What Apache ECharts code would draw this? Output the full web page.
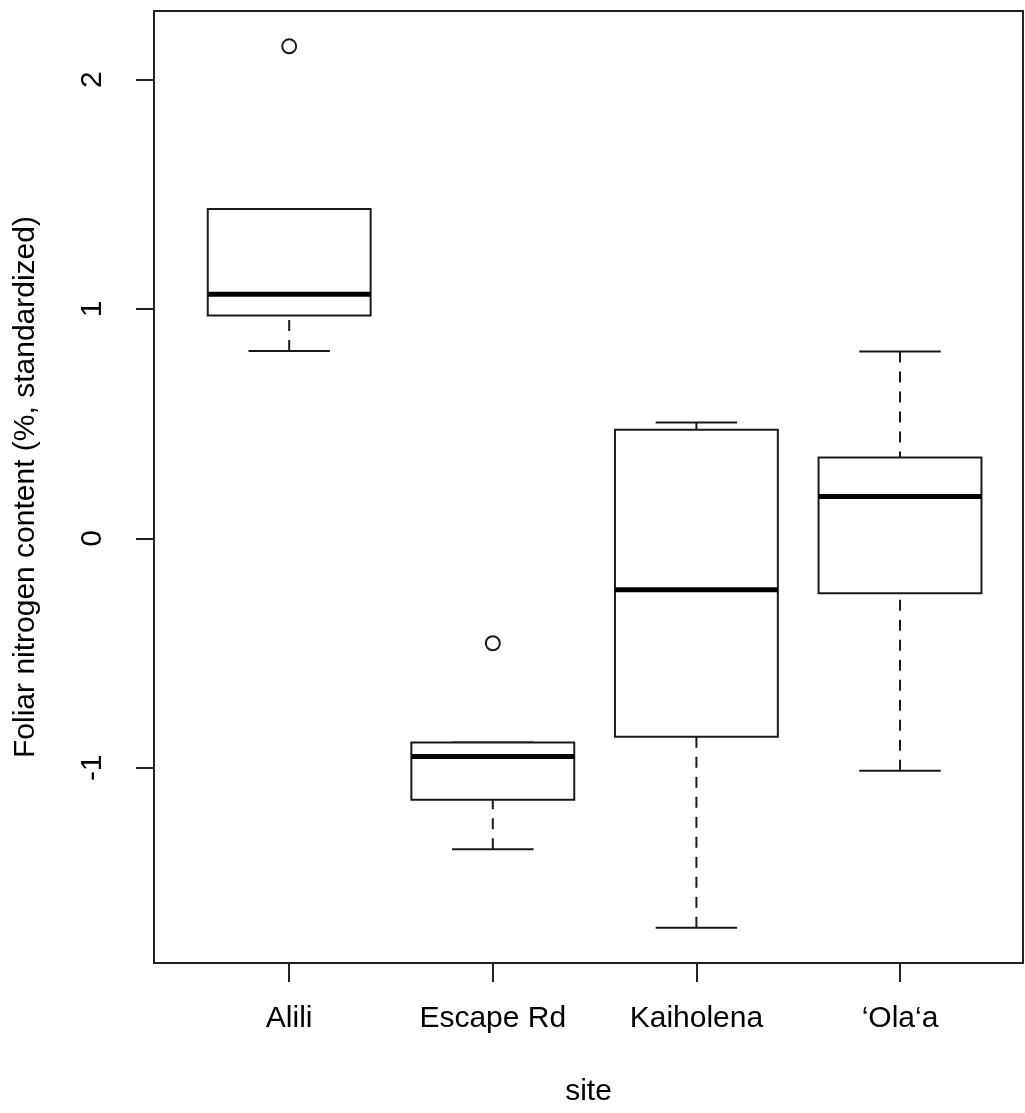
<!DOCTYPE html>
<html>
<head>
<meta charset="utf-8">
<script src="https://cdn.jsdelivr.net/npm/echarts@6/dist/echarts.min.js"></script>
<style>
  html, body { margin: 0; padding: 0; background: #ffffff; }
  #chart { width: 1025px; height: 1113px; }
</style>
</head>
<body>
<div id="chart"></div>
<script>
// Sites sampled (x categories)
const sites = ['Alili', 'Escape Rd', 'Kaiholena', '\u2018Ola\u2018a'];

// Five-number summaries per site (standardized foliar N)
const lowerWhisker = [0.817, -1.355, -1.697, -1.013];
const lowerQuartile = [0.972, -1.139, -0.865, -0.239];
const medians = [1.064, -0.951, -0.224, 0.183];
const upperQuartile = [1.436, -0.890, 0.474, 0.353];
const upperWhisker = [1.436, -0.890, 0.505, 0.815];

// Points beyond the whiskers: [site position, value]
const outlierSite = [1, 2];
const outlierValue = [2.145, -0.457];

// Axis ticks
const yTicks = [-1, 0, 1, 2];
const xTicks = [1, 2, 3, 4];

const FONT = '"Liberation Sans", Arial, Helvetica, sans-serif';
const INK = '#1a1a1a';
const FS = 30;

const boxData = sites.map((s, i) => [
  i + 1, lowerWhisker[i], lowerQuartile[i], medians[i], upperQuartile[i], upperWhisker[i]
]);
const outlierData = outlierSite.map((x, i) => [x, outlierValue[i]]);

const BOX_HALF = 0.4;   // half box width in axis units
const CAP_HALF = 0.2;   // half staple width in axis units
const OUTLIER_R = 7;    // outlier circle radius, px

function renderBox(params, api) {
  const x = api.value(0);
  const lo = api.value(1), b1 = api.value(2), md = api.value(3), b3 = api.value(4), hi = api.value(5);
  const cx = api.coord([x, md])[0];
  const left = api.coord([x - BOX_HALF, b3])[0];
  const right = api.coord([x + BOX_HALF, b3])[0];
  const capL = api.coord([x - CAP_HALF, b3])[0];
  const capR = api.coord([x + CAP_HALF, b3])[0];
  const yLo = api.coord([x, lo])[1];
  const yB1 = api.coord([x, b1])[1];
  const yMd = api.coord([x, md])[1];
  const yB3 = api.coord([x, b3])[1];
  const yHi = api.coord([x, hi])[1];
  const thin = { stroke: INK, lineWidth: 2, fill: null };
  const dashed = { stroke: INK, lineWidth: 2, lineDash: [11, 9], fill: null };
  const children = [];
  // whiskers, drawn from their ends toward the box
  if (yLo - yB1 > 0.5) {
    children.push({ type: 'line', shape: { x1: cx, y1: yLo, x2: cx, y2: yB1 }, style: dashed });
  }
  if (yB3 - yHi > 0.5) {
    children.push({ type: 'line', shape: { x1: cx, y1: yHi, x2: cx, y2: yB3 }, style: dashed });
  }
  // staples
  children.push({ type: 'line', shape: { x1: capL, y1: yLo, x2: capR, y2: yLo }, style: thin });
  children.push({ type: 'line', shape: { x1: capL, y1: yHi, x2: capR, y2: yHi }, style: thin });
  // box
  children.push({ type: 'rect', shape: { x: left, y: yB3, width: right - left, height: yB1 - yB3 },
    style: { stroke: INK, lineWidth: 2, fill: '#ffffff' } });
  // median
  children.push({ type: 'line', shape: { x1: left, y1: yMd, x2: right, y2: yMd },
    style: { stroke: '#000000', lineWidth: 5 } });
  return { type: 'group', children: children };
}

function renderOutlier(params, api) {
  const p = api.coord([api.value(0), api.value(1)]);
  return {
    type: 'circle',
    shape: { cx: p[0], cy: p[1], r: OUTLIER_R },
    style: { stroke: INK, lineWidth: 2, fill: null }
  };
}

const chart = echarts.init(document.getElementById('chart'), null, { renderer: 'canvas' });

chart.setOption({
  backgroundColor: '#ffffff',
  animation: false,
  grid: {
    left: 154, top: 11, right: 2, bottom: 150,
    show: true, borderColor: '#222222', borderWidth: 2, backgroundColor: 'transparent'
  },
  xAxis: {
    type: 'value',
    position: 'bottom',
    min: 0.336, max: 4.604,
    name: 'site',
    nameLocation: 'middle',
    nameGap: 114,
    nameTextStyle: { fontFamily: FONT, fontSize: FS, color: '#000' },
    axisLine: { show: false, onZero: false },
    splitLine: { show: false },
    axisTick: { show: true, customValues: xTicks, length: 19, lineStyle: { color: '#222222', width: 2 } },
    axisLabel: {
      customValues: xTicks,
      margin: 41,
      fontFamily: FONT, fontSize: FS, color: '#000',
      formatter: v => sites[Math.round(v) - 1] || ''
    }
  },
  yAxis: {
    type: 'value',
    position: 'left',
    min: -1.851, max: 2.299,
    name: 'Foliar nitrogen content (%, standardized)',
    nameLocation: 'middle',
    nameGap: 113,
    nameRotate: 90,
    nameTextStyle: { fontFamily: FONT, fontSize: FS, color: '#000' },
    axisLine: { show: false, onZero: false },
    splitLine: { show: false },
    axisTick: { show: true, customValues: yTicks, length: 18, lineStyle: { color: '#222222', width: 2 } },
    axisLabel: {
      customValues: yTicks,
      rotate: 90,
      margin: 46,
      fontFamily: FONT, fontSize: FS, color: '#000',
      formatter: v => String(v)
    }
  },
  series: [
    {
      type: 'custom',
      name: 'boxes',
      renderItem: renderBox,
      encode: { x: 0, y: [1, 2, 3, 4, 5] },
      data: boxData,
      z: 2
    },
    {
      type: 'custom',
      name: 'outliers',
      renderItem: renderOutlier,
      encode: { x: 0, y: 1 },
      data: outlierData,
      z: 3
    }
  ]
});
</script>
</body>
</html>
